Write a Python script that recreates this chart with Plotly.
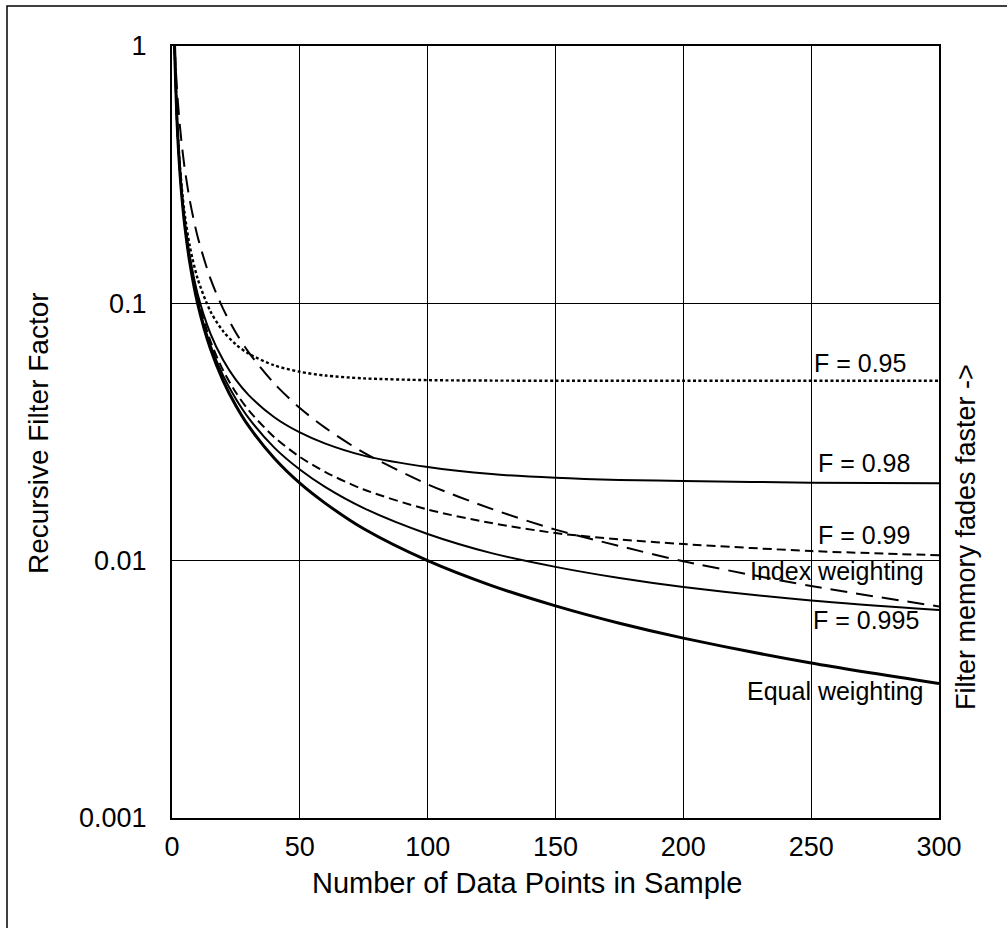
import plotly.graph_objects as go

# Number of data points in sample
n_points = [1, 2, 3, 4, 5, 7, 10, 15, 20, 25, 30, 40, 50, 60, 75, 100, 125, 150, 175, 200, 250, 300]

# Recursive filter factor
equal_weighting = [1.0, 0.5, 0.333, 0.25, 0.2, 0.143, 0.1, 0.0667, 0.05, 0.04, 0.0333, 0.025, 0.02,
                   0.0167, 0.0133, 0.01, 0.008, 0.00667, 0.00571, 0.005, 0.004, 0.00333]
index_weighting = [1.0, 0.667, 0.5, 0.4, 0.333, 0.25, 0.182, 0.125, 0.0952, 0.0769, 0.0645, 0.0488,
                   0.0392, 0.0328, 0.0263, 0.0198, 0.0159, 0.0132, 0.0114, 0.00995, 0.00797, 0.00664]
f_0995 = [1.0, 0.501, 0.335, 0.252, 0.202, 0.145, 0.102, 0.069, 0.0524, 0.0425, 0.0358, 0.0275,
          0.0226, 0.0193, 0.016, 0.0127, 0.0107, 0.00946, 0.00856, 0.0079, 0.007, 0.00643]
f_099 = [1.0, 0.503, 0.337, 0.254, 0.204, 0.147, 0.105, 0.0715, 0.0549, 0.045, 0.0384, 0.0302,
         0.0253, 0.0221, 0.0189, 0.0158, 0.014, 0.0128, 0.0121, 0.0116, 0.0109, 0.0105]
f_098 = [1.0, 0.505, 0.34, 0.258, 0.208, 0.152, 0.109, 0.0765, 0.0602, 0.0504, 0.044, 0.0361,
         0.0315, 0.0285, 0.0256, 0.0231, 0.0217, 0.021, 0.0206, 0.0204, 0.0201, 0.02]
f_095 = [1.0, 0.513, 0.351, 0.27, 0.221, 0.166, 0.125, 0.0932, 0.0779, 0.0692, 0.0637, 0.0574,
         0.0542, 0.0524, 0.0511, 0.0503, 0.0501, 0.05, 0.05, 0.05, 0.05, 0.05]

x_ticks = [0, 50, 100, 150, 200, 250, 300]
y_ticks = [0.001, 0.01, 0.1, 1]
y_tick_labels = ["0.001", "0.01", "0.1", "1"]

labels = ["F = 0.95", "F = 0.98", "F = 0.99", "Index weighting", "F = 0.995", "Equal weighting"]

W, H = 1007, 928
L, R, T, B = 172, 939, 46, 818
FONT = "Liberation Sans, Arial, Helvetica, sans-serif"


def px(x):
    return (x - L) / (R - L)


def py(y):
    return 1 - (y - T) / (B - T)


fig = go.Figure()
series = [
    (f_095, dict(color="black", width=2.4, dash="3px,2.5px")),
    (f_098, dict(color="black", width=2)),
    (f_099, dict(color="black", width=2, dash="9px,5px")),
    (index_weighting, dict(color="black", width=2, dash="17px,9px")),
    (f_0995, dict(color="black", width=2)),
    (equal_weighting, dict(color="black", width=3)),
]
for (vals, ln), name in zip(series, labels):
    fig.add_trace(go.Scatter(x=n_points, y=vals, mode="lines", name=name,
                             line=dict(shape="spline", smoothing=0.8, **ln),
                             showlegend=False, hoverinfo="skip"))

ann_pos = [  # (px x, px y, anchor)
    (812, 363, "left"),
    (816, 463, "left"),
    (816, 535, "left"),
    (926, 571, "right"),
    (811, 620, "left"),
    (926, 691, "right"),
]
annotations = []
for text, (ax, ay, anc) in zip(labels, ann_pos):
    annotations.append(dict(x=px(ax), y=py(ay), xref="paper", yref="paper", text=text,
                            showarrow=False, xanchor=anc, yanchor="middle",
                            font=dict(size=25, color="black", family=FONT)))
annotations.append(dict(x=px(527), y=py(883), xref="paper", yref="paper",
                        text="Number of Data Points in Sample", showarrow=False,
                        xanchor="center", yanchor="middle",
                        font=dict(size=29, color="black", family=FONT)))
annotations.append(dict(x=px(38), y=py(433), xref="paper", yref="paper",
                        text="Recursive Filter Factor", showarrow=False, textangle=-90,
                        xanchor="center", yanchor="middle",
                        font=dict(size=28, color="black", family=FONT)))
annotations.append(dict(x=px(966), y=py(537), xref="paper", yref="paper",
                        text="Filter memory fades faster ->", showarrow=False, textangle=-90,
                        xanchor="center", yanchor="middle",
                        font=dict(size=27, color="black", family=FONT)))

fig.update_layout(
    width=W, height=H, autosize=False,
    margin=dict(l=L, r=W - R, t=T, b=H - B, pad=0),
    paper_bgcolor="white", plot_bgcolor="white",
    font=dict(family=FONT, color="black", size=27),
    annotations=annotations,
    hovermode=False,
    shapes=[dict(type="rect", xref="paper", yref="paper",
                 x0=px(7), x1=px(1015), y0=py(940), y1=py(6),
                 line=dict(color="black", width=1.5))],
)
fig.update_xaxes(range=[0, 300], tickvals=x_ticks, showgrid=True, gridcolor="black", gridwidth=1.2,
                 showline=True, linecolor="black", linewidth=2, mirror=True, ticks="",
                 zeroline=False, ticklabelstandoff=4, tickfont=dict(size=27, color="black"))
fig.update_yaxes(type="log", range=[-3, 0], tickvals=y_ticks, ticktext=y_tick_labels,
                 showgrid=True, gridcolor="black", gridwidth=1.2,
                 showline=True, linecolor="black", linewidth=2, mirror=True, ticks="",
                 zeroline=False, ticklabelstandoff=18, tickfont=dict(size=27, color="black"))

fig.write_html("out.html", config={"displayModeBar": False},
               post_script="document.body.style.margin='0';")
